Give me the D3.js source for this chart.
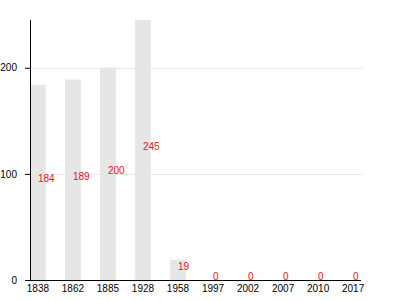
<!DOCTYPE html>
<html>
<head>
<meta charset="utf-8">
<script src="https://cdn.jsdelivr.net/npm/d3@7"></script>
<style>
  body { margin: 0; background: #fff; }
  svg { font-family: "Liberation Sans", Arial, sans-serif; }
</style>
</head>
<body>
<div class="chart"></div>
<script>
var years = ["1838", "1862", "1885", "1928", "1958", "1997", "2002", "2007", "2010", "2017"];
var counts = [184, 189, 200, 245, 19, 0, 0, 0, 0, 0];
var yTicks = [0, 100, 200];

var
    width = 400,
    height = 300,
    plotLeft = 30,
    plotRight = 361,
    plotTop = 20,
    plotBottom = 280;

var svg = d3.select('.chart').append('svg')
    .attr('width', width)
    .attr('height', height);

var x = d3.scaleBand()
    .domain(years)
    .range([plotLeft, plotRight])
    .paddingInner(0.55)
    .paddingOuter(0);

var y = d3.scaleLinear()
    .domain([0, 245])
    .range([plotBottom, plotTop]);

// grid lines
svg.append('g')
    .selectAll('line')
    .data(yTicks.filter(function(d){ return d > 0; }))
    .enter()
    .append('line')
    .attr('x1', plotLeft)
    .attr('x2', plotRight + 2)
    .attr('y1', function(d){ return y(d) + 0.5; })
    .attr('y2', function(d){ return y(d) + 0.5; })
    .attr('stroke', '#e8e8e8')
    .attr('stroke-width', 1);

// bars
svg.append('g')
    .selectAll('rect')
    .data(counts)
    .enter()
    .append('rect')
    .attr('x', function(d, i){ return x(years[i]); })
    .attr('width', x.bandwidth())
    .attr('y', function(d){ return y(d); })
    .attr('height', function(d){ return plotBottom - y(d); })
    .attr('fill', '#e6e6e6');

// value labels
svg.append('g')
    .selectAll('text')
    .data(counts)
    .enter()
    .append('text')
    .attr('x', function(d, i){ return x(years[i]) + x.bandwidth() / 2; })
    .attr('y', function(d){ return y(d / 2); })
    .attr('fill', '#ee1111')
    .attr('font-size', 10)
    .text(function(d){ return d; });

// axes
var yAxis = svg.append('g')
    .attr('transform', 'translate(' + plotLeft + ',0)')
    .call(d3.axisLeft(y).tickValues(yTicks).tickSize(5).tickPadding(8));

var xAxis = svg.append('g')
    .attr('transform', 'translate(0,' + plotBottom + ')')
    .call(d3.axisBottom(x).tickSize(0).tickPadding(5));

[yAxis, xAxis].forEach(function(g){
    g.select('.domain').attr('stroke', '#000');
    g.selectAll('.tick line').attr('stroke', '#000');
    g.selectAll('text')
        .attr('fill', '#000')
        .attr('font-size', 10)
        .attr('font-family', '"Liberation Sans", Arial, sans-serif');
});
yAxis.select('.domain').attr('d', 'M0.5,' + plotTop + 'V' + (plotBottom + 0.5));
xAxis.select('.domain').attr('d', 'M' + plotLeft + ',0.5H' + plotRight);
</script>
</body>
</html>
